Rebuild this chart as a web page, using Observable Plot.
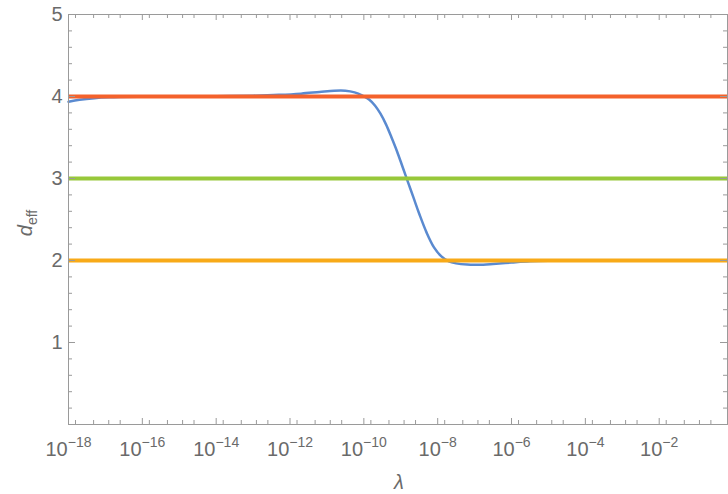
<!DOCTYPE html>
<html><head><meta charset="utf-8">
<script src="https://cdn.jsdelivr.net/npm/d3@7"></script>
<script src="https://cdn.jsdelivr.net/npm/@observablehq/plot@0.6"></script>
<style>body{margin:0;background:#fff}</style>
</head><body><div id="chart"></div>
<script>
// curve: log10(lambda) and effective dimension
const logLambda = [-18,-17.7,-17.3,-16.9,-16,-15,-14,-13,-12.3,-11.7,-11.2,-10.8,-10.5,-10.25,-10.05,-9.85,-9.7,-9.55,-9.4,-9.25,-9.1,-8.95,-8.8,-8.65,-8.5,-8.3,-8.1,-7.9,-7.7,-7.5,-7.2,-6.9,-6.5,-6,-5.5,-5,-4,-0.15];
const dEff = [3.935,3.96,3.98,3.99,3.997,4.0,4.003,4.01,4.02,4.035,4.055,4.07,4.07,4.05,4.015,3.96,3.89,3.79,3.66,3.5,3.33,3.14,2.95,2.76,2.57,2.34,2.16,2.05,1.99,1.965,1.95,1.948,1.958,1.975,1.99,1.997,2.0,2.0];
const levels = [4, 3, 2];
const levelColors = ["#F4622C", "#97C83A", "#F8AA18"];
const curveColor = "#5A8AD0";
const xMajorExps = [-18,-16,-14,-12,-10,-8,-6,-4,-2];
const xMinorOffsets = [0.19, 0.68, 1.09, 1.4];
const yMajor = [1, 2, 3, 4, 5];

const W = 728, H = 494, mt = 14, mb = 70, ml = 68, mr = 1;
const innerH = H - mt - mb, innerW = W - ml - mr;
const xMax = 10 ** -0.15;

const curve = logLambda.map((e, i) => ({lambda: 10 ** e, d: dEff[i]}));
const lines = levels.map((d, i) => ({d, color: levelColors[i]}));
const xMajor = xMajorExps.map(e => 10 ** e);
const xMinor = [];
for (const e of [...xMajorExps, 0]) for (const o of xMinorOffsets) {
  const v = 10 ** (e + o);
  if (v > 1e-18 && v < xMax) xMinor.push(v);
}
const yMinor = d3.range(1, 25).map(i => i * 0.2).filter(v => Math.abs(v - Math.round(v)) > 1e-6);
const tickColor = "#9a9a9a";

const chart = Plot.plot({
  width: W, height: H,
  marginTop: mt, marginBottom: mb, marginLeft: ml, marginRight: mr,
  x: {type: "log", domain: [1e-18, xMax]},
  y: {domain: [0, 5]},
  color: {type: "identity"},
  style: {fontFamily: "'Liberation Sans', Arial, sans-serif", fontSize: "20px", color: "#6a6a6a", background: "white"},
  marks: [
    Plot.line(curve, {x: "lambda", y: "d", stroke: curveColor, strokeWidth: 2.5, curve: "catmull-rom"}),
    Plot.ruleY(lines, {y: "d", stroke: "color", strokeWidth: 4}),
    Plot.frame({stroke: tickColor}),
    // bottom & top ticks
    Plot.tickX(xMajor, {insetTop: innerH - 6, stroke: tickColor}),
    Plot.tickX(xMinor, {insetTop: innerH - 4, stroke: tickColor}),
    Plot.tickX(xMajor, {insetBottom: innerH - 6, stroke: tickColor}),
    Plot.tickX(xMinor, {insetBottom: innerH - 4, stroke: tickColor}),
    // left & right ticks
    Plot.tickY(yMajor, {insetRight: innerW - 7, stroke: tickColor}),
    Plot.tickY(yMinor, {insetRight: innerW - 4, stroke: tickColor}),
    Plot.tickY(yMajor, {insetLeft: innerW - 7, stroke: tickColor}),
    Plot.tickY(yMinor, {insetLeft: innerW - 4, stroke: tickColor}),
    Plot.axisX({ticks: xMajor, tickSize: 0, tickPadding: 17, label: null,
      tickFormat: v => "10^" + Math.round(Math.log10(v))}),
    Plot.axisY({ticks: yMajor, tickSize: 0, tickPadding: 6, label: null, tickFormat: d => String(d)})
  ]
});

// superscript exponents
d3.select(chart).selectAll('g[aria-label="x-axis tick label"] text').each(function() {
  const t = d3.select(this);
  const s = t.text();
  const exp = s.split("^")[1].replace("-", "\u2212");
  t.text("10");
  t.append("tspan").attr("dy", "-9").attr("font-size", "14px").text(exp);
});

const svg = d3.select(chart);
svg.append("text").attr("x", 399).attr("y", 489).attr("text-anchor", "middle")
  .attr("font-style", "italic").attr("font-size", "20px").attr("fill", "#6a6a6a").text("λ");
const yl = svg.append("text").attr("transform", "translate(32,223) rotate(-90)")
  .attr("text-anchor", "middle").attr("font-size", "20px").attr("fill", "#6a6a6a");
yl.append("tspan").attr("font-style", "italic").text("d");
yl.append("tspan").attr("dy", "5").attr("font-size", "14px").text("eff");

document.getElementById("chart").appendChild(chart);
</script>
</body></html>
